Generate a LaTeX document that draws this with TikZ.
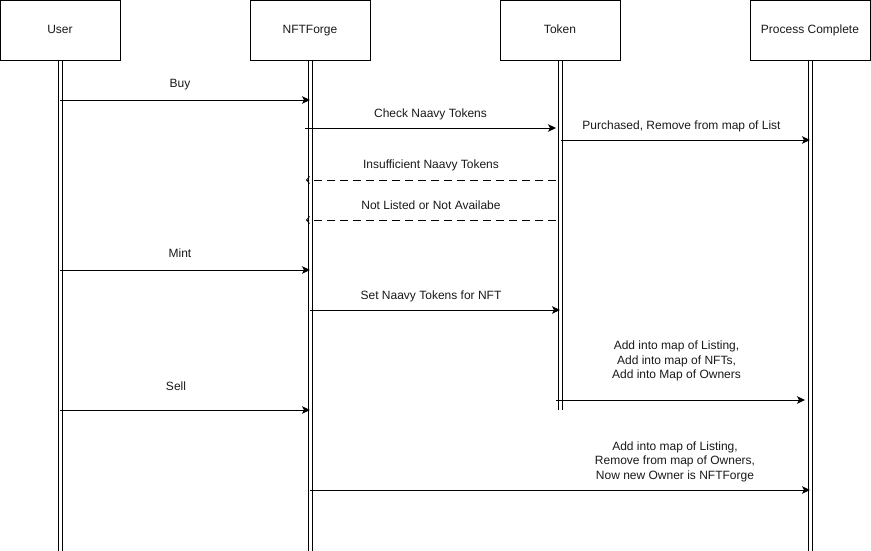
\documentclass[tikz,border=0pt]{standalone}
\usepackage{fontspec}
\setmainfont{Liberation Sans}
\usetikzlibrary{positioning,arrows.meta}

\begin{document}
\begin{tikzpicture}[x=1pt,y=1pt,
  every node/.style={font=\fontsize{12}{14.5}\selectfont,text=black!90},
  head/.style={draw,line width=0.8pt,minimum width=120pt,minimum height=60pt,inner sep=0pt,text height=9pt,text depth=2.5pt},
  life/.style={line width=0.9pt},
  msg/.style={line width=0.8pt,-{Stealth[length=8pt,width=7.5pt,inset=2pt]}},
  reply/.style={line width=0.8pt,dash pattern=on 8pt off 5pt,-{Straight Barb[length=3pt,width=7pt]}},
  lbl/.style={align=center,inner sep=0pt}]
\useasboundingbox (0,0) rectangle (871,-551);
\node[head] (user) at (60,-30) {User};
\node[head,on grid,right=250pt of user] (forge) {NFTForge};
\node[head,on grid,right=250pt of forge] (token) {Token};
\node[head,on grid,right=250pt of token] (done) {Process Complete};
\coordinate (bottom) at (0,-551);
\coordinate (tokenend) at (0,-410);
\foreach \s in {-2,2}{
  \draw[life] ([xshift=\s pt]user.south) -- ([xshift=\s pt]user |- bottom);
  \draw[life] ([xshift=\s pt]forge.south) -- ([xshift=\s pt]forge |- bottom);
  \draw[life] ([xshift=\s pt]token.south) -- ([xshift=\s pt]token |- tokenend);
  \draw[life] ([xshift=\s pt]done.south) -- ([xshift=\s pt]done |- bottom);
}
% buy
\draw[msg] (user |- 0,-100) -- node[lbl,xshift=-5pt,yshift=15pt] {Buy} (forge |- 0,-100);
\draw[msg] ([xshift=-5pt]forge |- 0,-128) -- node[lbl,yshift=14pt] {Check Naavy Tokens} ([xshift=-4pt]token |- 0,-128);
\draw[msg] ([xshift=1pt]token |- 0,-140) -- node[lbl,xshift=-4pt,yshift=14pt] {Purchased, Remove from map of List} (done |- 0,-140);
\draw[reply] ([xshift=-4pt]token |- 0,-180) -- node[lbl,yshift=14.5pt] {Insufficient Naavy Tokens} ([xshift=-4pt]forge |- 0,-180);
\draw[reply] ([xshift=-4pt]token |- 0,-220) -- node[lbl,yshift=15pt] {Not Listed or Not Availabe} ([xshift=-4pt]forge |- 0,-220);
% mint
\draw[msg] (user |- 0,-270) -- node[lbl,xshift=-5pt,yshift=17pt] {Mint} (forge |- 0,-270);
\draw[msg] (forge |- 0,-310) -- node[lbl,xshift=-4pt,yshift=14pt] {Set Naavy Tokens for NFT} (token |- 0,-310);
\draw[msg] ([xshift=-4pt]token |- 0,-400) -- node[lbl,xshift=-4pt,yshift=39pt] {Add into map of Listing,\\Add into map of NFTs,\\Add into Map of Owners} ([xshift=-5pt]done |- 0,-400);
% sell
\draw[msg] (user |- 0,-410) -- node[lbl,xshift=-9pt,yshift=24pt] {Sell} (forge |- 0,-410);
\draw[msg] (forge |- 0,-490) -- node[lbl,pos=0.73,yshift=28.5pt] {Add into map of Listing,\\Remove from map of Owners,\\Now new Owner is NFTForge} (done |- 0,-490);
\end{tikzpicture}
\end{document}
